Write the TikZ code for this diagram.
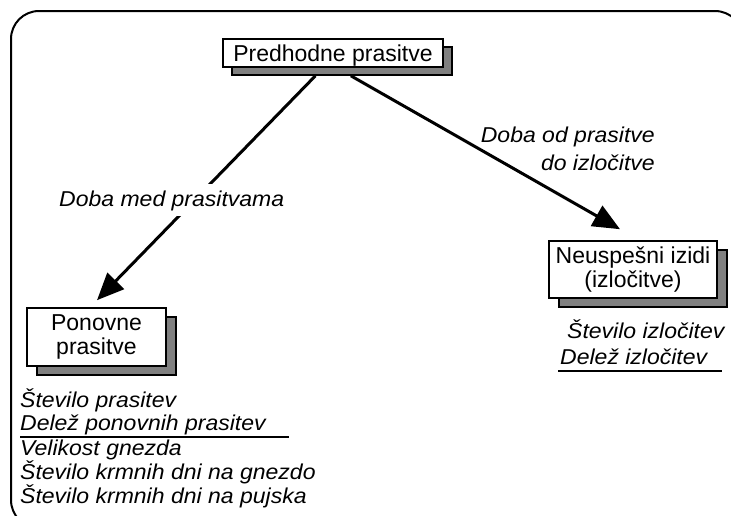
\documentclass[tikz,border=0pt]{standalone}
\usepackage{fontspec}
\setmainfont{Liberation Sans}
% slightly widened italic face for the measure lists and arrow labels
\newfontfamily\listfont[FakeStretch=1.07]{Liberation Sans}
\usetikzlibrary{arrows.meta,calc}

\begin{document}
\begin{tikzpicture}[x=1pt,y=-1pt,
  every node/.style={font=\fontsize{23}{24}\selectfont},
  box/.style={draw=black, line width=1.6pt, fill=white, inner sep=0pt, align=center},
  shadowbox/.style={draw=black, line width=1.6pt, fill=black!50, inner sep=0pt},
  conn/.style={line width=3pt, -{Triangle[length=27pt,width=23pt]}},
  lbl/.style={font=\listfont\itshape\fontsize{21.5}{26}\selectfont, inner sep=0pt},
  listtext/.style={lbl, anchor=base west},
  rule/.style={line width=2pt},
]
\useasboundingbox (0,0) rectangle (731,515);

% outer rounded frame (runs past the right and bottom edges)
\draw[line width=2pt, rounded corners=28pt] (11,11) rectangle (743,528);

% top box with its drop shadow
\node[shadowbox, minimum width=220pt, minimum height=28pt] (predsh) at (342,61) {};
\node[box, minimum width=220pt, minimum height=28pt, text depth=0pt] (pred) at (333,53) {Predhodne prasitve};

% lower left box
\node[shadowbox, minimum width=139pt, minimum height=58pt] (ponsh) at (106.5,346) {};
\node[box, minimum width=139pt, minimum height=58pt] (pon) at (96.5,337) {Ponovne\\prasitve};

% right box
\node[shadowbox, minimum width=168pt, minimum height=57pt] (neush) at (643,278.5) {};
\node[box, minimum width=168pt, minimum height=57pt] (neu) at (633,269.5) {Neuspešni izidi\\(izločitve)};

% connectors
\draw[conn] ($(predsh.south west)!0.38!(predsh.south east)$) -- ($(pon.north)+(0.5,-7)$);
\draw[conn] ($(predsh.south west)!0.54!(predsh.south east)$) -- ($(neu.north)+(-13,-11)$);

% connector labels
\node[lbl, anchor=base west, fill=white, inner xsep=2pt, inner ysep=6pt] (lmed) at (57,206) {Doba med prasitvama};
\node[lbl, anchor=base east] (lod1) at (655,142) {Doba od prasitve};
\node[lbl, anchor=base east] (lod2) at (655,170) {do izločitve};

% measures under the right box
\node[listtext] (r1) at (567,338) {Število izločitev};
\node[listtext] (r2) at (560,364) {Delež izločitev};
\coordinate (ru1) at (558,371);
\coordinate (ru2) at (722,371);
\draw[rule] (ru1) -- (ru2);

% measures under the left box
\node[listtext] (l1) at (20,407) {Število prasitev};
\node[listtext] (l2) at (20,430) {Delež ponovnih prasitev};
\coordinate (lu1) at (20,437);
\coordinate (lu2) at (289,437);
\draw[rule] (lu1) -- (lu2);
\node[listtext] (l3) at (20,455) {Velikost gnezda};
\node[listtext] (l4) at (20,479) {Število krmnih dni na gnezdo};
\node[listtext] (l5) at (20,503) {Število krmnih dni na pujska};
\end{tikzpicture}
\end{document}
